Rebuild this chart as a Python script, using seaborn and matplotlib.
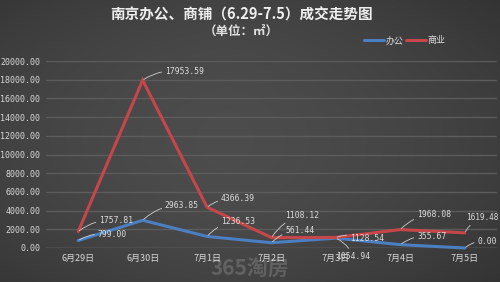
import numpy as np
import pandas as pd
import matplotlib
matplotlib.use("Agg")
import matplotlib.pyplot as plt
import seaborn as sns

categories = ["6月29日", "6月30日", "7月1日", "7月2日", "7月3日", "7月4日", "7月5日"]
office = [799.00, 2963.85, 1236.53, 561.44, 1054.94, 355.67, 0.00]
commerce = [1757.81, 17953.59, 4366.39, 1108.12, 1128.54, 1968.08, 1619.48]
series_names = ["办公", "商业"]
yticks = list(range(0, 20001, 2000))

df = pd.DataFrame({
    "date": categories * 2,
    "value": office + commerce,
    "type": [series_names[0]] * len(categories) + [series_names[1]] * len(categories),
})

sns.set_theme(style="dark")
plt.rcParams['font.family'] = ['Noto Sans CJK SC', 'DejaVu Sans']

fig = plt.figure(figsize=(5, 2.82), dpi=100)
# background gradient
bg = fig.add_axes([0, 0, 1, 1], zorder=-10)
xx = np.linspace(-1, 1, 300)
yy = np.linspace(-1, 1, 170)
X, Y = np.meshgrid(xx, yy)
G = 0.30 - 0.05 * (np.abs(X + 0.1) ** 1.5) - 0.04 * (np.abs(Y) ** 2)
bg.imshow(np.dstack([G, G, G]), aspect="auto", extent=[0, 1, 0, 1])
bg.set_axis_off()

ax = fig.add_axes([0.092, 0.1206, 0.902, 0.663])
ax.set_facecolor("none")
palette = {"办公": "#4a7fc1", "商业": "#c6464a"}
sns.lineplot(data=df, x="date", y="value", hue="type", palette=palette,
             linewidth=2.2, ax=ax, legend=False, sort=False)
for ln in ax.lines:
    ln.set_clip_on(False)
    ln.set_solid_joinstyle("miter")

mono = ['DejaVu Sans Mono']
ax.set_ylim(0, 20000)
ax.set_xlim(-0.5, 6.5)
ax.set_yticks(yticks)
ax.set_yticklabels([f"{v:.2f}" for v in yticks], color="#d8d8d8", fontsize=6,
                   family=mono)
ax.set_xticks(range(len(categories)))
ax.set_xticklabels(categories, color="#d8d8d8", fontsize=6.5)
ax.tick_params(axis="both", length=0, pad=4)
ax.set_xlabel("")
ax.set_ylabel("")
ax.grid(axis="y", color="#5c5c5c", linewidth=1.0)
ax.grid(axis="x", visible=False)
for s in ax.spines.values():
    s.set_visible(False)
ax.axhline(0, color="#6a6a6a", linewidth=1.0, zorder=0)

# data labels (offsets in points)
offsets_office = [(14, 4), (16, 11), (10, 11), (10, 9), (0, -13), (12, 6), (9, 5)]
offsets_comm = [(15, 8), (16, 6), (10, 6), (10, 16), (10, -1), (12, 11), (1, 11)]
txtc = "#dcdcdc"
for i, v in enumerate(office):
    ax.annotate(f"{v:.2f}", xy=(i, v), xytext=offsets_office[i], textcoords="offset points",
                fontsize=5.8, color=txtc, family=mono, va="center", ha="left",
                arrowprops=dict(arrowstyle="-", color="#cfcfcf", lw=0.6,
                                connectionstyle="arc3,rad=0.2", shrinkA=0, shrinkB=1))
for i, v in enumerate(commerce):
    ax.annotate(f"{v:.2f}", xy=(i, v), xytext=offsets_comm[i], textcoords="offset points",
                fontsize=5.6 if i == 6 else 5.8, color=txtc, family=mono, va="center", ha="left",
                arrowprops=dict(arrowstyle="-", color="#cfcfcf", lw=0.6,
                                connectionstyle="arc3,rad=0.2", shrinkA=0, shrinkB=1))

fig.text(0.483, 0.948, "南京办公、商铺（6.29-7.5）成交走势图", ha="center", va="center",
         color="#eeeeee", fontsize=10.5, fontweight="bold")
fig.text(0.483, 0.888, "（单位：㎡）", ha="center", va="center",
         color="#e0e0e0", fontsize=9, fontweight="bold")

from matplotlib.lines import Line2D
handles = [Line2D([], [], color=palette[n], lw=2.2) for n in series_names]
leg = fig.legend(handles, series_names, loc="center", bbox_to_anchor=(0.81, 0.855), ncol=2,
                 frameon=False, fontsize=6.5, handlelength=2.2, handletextpad=0.2,
                 columnspacing=0.2, labelcolor="#dcdcdc")

fig.text(0.5, 0.045, "365淘房", ha="center", va="center", color="#ffffff", alpha=0.16,
         fontsize=15, fontweight="bold", style="italic")

fig.savefig("out.png", dpi=100)
